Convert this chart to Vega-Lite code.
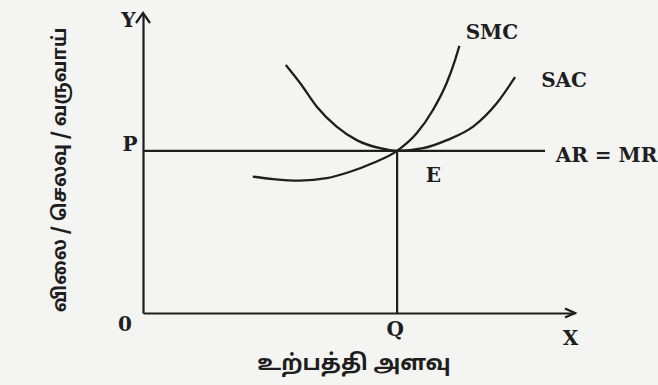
{
  "$schema": "https://vega.github.io/schema/vega-lite/v6.json",
  "width": 432,
  "height": 300,
  "padding": {"left": 143, "top": 13, "right": 83, "bottom": 72},
  "autosize": {"type": "none"},
  "background": "#f4f4f2",
  "config": {"view": {"stroke": null}},
  "datasets": {
    "curves": [
      {"curve": "SAC", "x": 5.62, "y": 15.29},
      {"curve": "SAC", "x": 6.18, "y": 14.18},
      {"curve": "SAC", "x": 6.84, "y": 12.72},
      {"curve": "SAC", "x": 7.62, "y": 11.49},
      {"curve": "SAC", "x": 8.41, "y": 10.66},
      {"curve": "SAC", "x": 9.33, "y": 10.16},
      {"curve": "SAC", "x": 10.0, "y": 10.0},
      {"curve": "SAC", "x": 11.02, "y": 10.16},
      {"curve": "SAC", "x": 11.96, "y": 10.66},
      {"curve": "SAC", "x": 12.99, "y": 11.49},
      {"curve": "SAC", "x": 13.92, "y": 12.93},
      {"curve": "SAC", "x": 14.64, "y": 14.54},
      {"curve": "SMC", "x": 4.32, "y": 8.41},
      {"curve": "SMC", "x": 5.12, "y": 8.26},
      {"curve": "SMC", "x": 6.18, "y": 8.16},
      {"curve": "SMC", "x": 7.23, "y": 8.31},
      {"curve": "SMC", "x": 8.15, "y": 8.71},
      {"curve": "SMC", "x": 9.05, "y": 9.25},
      {"curve": "SMC", "x": 10.0, "y": 10.0},
      {"curve": "SMC", "x": 10.77, "y": 11.08},
      {"curve": "SMC", "x": 11.41, "y": 12.52},
      {"curve": "SMC", "x": 11.95, "y": 14.18},
      {"curve": "SMC", "x": 12.28, "y": 15.6},
      {"curve": "SMC", "x": 12.45, "y": 16.47}
    ],
    "guides": [
      {"name": "AR=MR", "x": 0, "x2": 15.82, "y": 10, "y2": 10},
      {"name": "Q", "x": 10, "x2": 10, "y": 0, "y2": 10}
    ],
    "arrowUp": [{"x": 0, "y": 18.5}],
    "arrowRight": [{"x": 17, "y": 0}],
    "labels": [
      {"t": "Y", "x": -0.57, "y": 17.98},
      {"t": "P", "x": -0.51, "y": 10.39},
      {"t": "0", "x": -0.71, "y": -0.74},
      {"t": "Q", "x": 9.92, "y": -1.05},
      {"t": "X", "x": 16.82, "y": -1.63},
      {"t": "E", "x": 11.43, "y": 8.45},
      {"t": "SMC", "x": 13.73, "y": 17.27},
      {"t": "SAC", "x": 16.57, "y": 14.31},
      {"t": "AR = MR", "x": 18.24, "y": 9.71}
    ],
    "ytitle": [{"t": "விலை / செலவு / வருவாய்", "x": -3.27, "y": 8.82}],
    "xtitle": [{"t": "உற்பத்தி அளவு", "x": 8.3, "y": -3.11}]
  },
  "encoding": {
    "x": {
      "field": "x", "type": "quantitative",
      "scale": {"domain": [0, 17], "nice": false, "zero": false},
      "axis": {"domain": true, "domainColor": "#1e1e1e", "domainWidth": 2.2, "ticks": false, "labels": false, "grid": false, "title": null}
    },
    "y": {
      "field": "y", "type": "quantitative",
      "scale": {"domain": [0, 18.5], "nice": false, "zero": false},
      "axis": {"domain": true, "domainColor": "#1e1e1e", "domainWidth": 2.2, "ticks": false, "labels": false, "grid": false, "title": null}
    }
  },
  "layer": [
    {
      "data": {"name": "curves"},
      "mark": {"type": "line", "interpolate": "monotone", "strokeWidth": 2.3, "color": "#1e1e1e"},
      "encoding": {"detail": {"field": "curve"}}
    },
    {
      "data": {"name": "guides"},
      "mark": {"type": "rule", "strokeWidth": 2.2, "color": "#1e1e1e"},
      "encoding": {"x2": {"field": "x2"}, "y2": {"field": "y2"}}
    },
    {
      "data": {"name": "arrowUp"},
      "mark": {"type": "point", "shape": "M-0.7,1L0,0L0.7,1", "size": 400, "filled": false, "stroke": "#1e1e1e", "strokeWidth": 2.2, "opacity": 1}
    },
    {
      "data": {"name": "arrowRight"},
      "mark": {"type": "point", "shape": "M-1,-0.45L0,0L-1,0.45", "size": 400, "filled": false, "stroke": "#1e1e1e", "strokeWidth": 2.2, "opacity": 1}
    },
    {
      "data": {"name": "labels"},
      "mark": {"type": "text", "font": "DejaVu Serif", "fontWeight": "bold", "fontSize": 20, "color": "#1e1e1e", "align": "center", "baseline": "middle"},
      "encoding": {"text": {"field": "t"}}
    },
    {
      "data": {"name": "ytitle"},
      "mark": {"type": "text", "font": "Noto Sans Tamil, Noto Sans, sans-serif", "fontWeight": "bold", "fontSize": 19, "angle": 270, "color": "#1e1e1e", "align": "center", "baseline": "middle"},
      "encoding": {"text": {"field": "t"}}
    },
    {
      "data": {"name": "xtitle"},
      "mark": {"type": "text", "font": "Noto Sans Tamil, Noto Sans, sans-serif", "fontWeight": "bold", "fontSize": 22, "color": "#1e1e1e", "align": "center", "baseline": "middle"},
      "encoding": {"text": {"field": "t"}}
    }
  ]
}
